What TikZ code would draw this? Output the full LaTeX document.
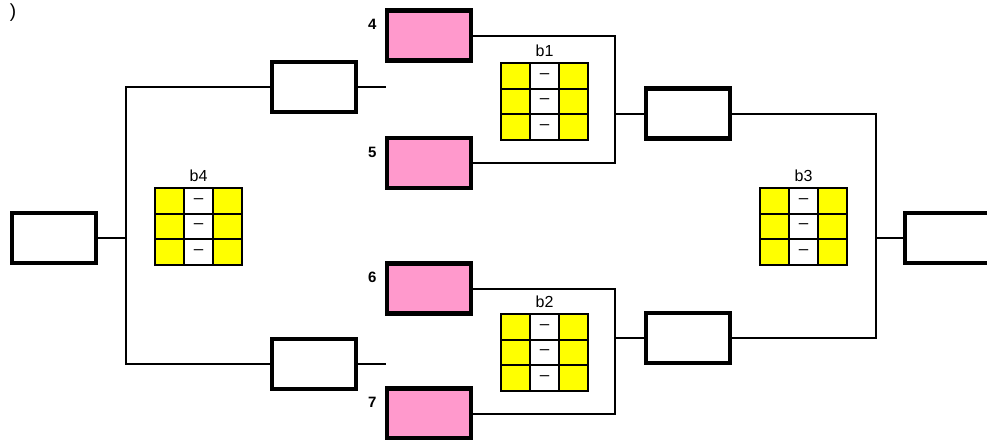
\documentclass[tikz,border=0pt]{standalone}
\usepackage{fontspec}
\setmainfont{Liberation Sans}
\usetikzlibrary{positioning}
\definecolor{seedpink}{HTML}{FF99CC}
\definecolor{cellyellow}{HTML}{FFFF00}
\tikzset{
  slot/.style={draw,line width=4.5pt,minimum width=84pt,minimum height=50pt,inner sep=0pt},
  seed/.style={slot,fill=seedpink},
  cell/.style={draw,line width=2pt,minimum width=29pt,minimum height=25.5pt,inner sep=0pt,font=\fontsize{17}{17}\selectfont},
  lbl/.style={font=\fontsize{16}{16}\selectfont,inner sep=0pt},
  num/.style={font=\bfseries\fontsize{15}{15}\selectfont,inner sep=0pt},
  wire/.style={line width=2pt},
}
\newcommand{\scoregrid}[3]{%
 \begin{scope}[shift={(#2)}]
  \foreach \c/\col/\txt in {0/cellyellow/{},1/white/{\textendash},2/cellyellow/{}}
   \foreach \r in {0,1,2}
    \node [cell,fill=\col] (#1-\r\c) at (\c*29+14.5,\r*25.5+12.75) {\txt};
  \node [lbl] (#1) at (43.5,-12) {#3};
 \end{scope}%
}
\begin{document}
\begin{tikzpicture}[x=1pt,y=-1pt]
  \useasboundingbox (0,0) rectangle (987,439);
  \node [font=\fontsize{19}{19}\selectfont,inner sep=0pt] (brace) at (13,13) {)};
  % boxes
  \node [slot] (L0) at (54,238) {};
  \node [slot] (Q1) at (314,87) {};
  \node [slot] (Q2) at (314,364) {};
  \node [seed] (P4) at (429,35.5) {};
  \node [seed] (P5) at (429,163) {};
  \node [seed] (P6) at (429,288.5) {};
  \node [seed] (P7) at (429,413.5) {};
  \node [slot] (S1) at (688,113.5) {};
  \node [slot] (S2) at (688,338) {};
  \node [slot] (F) at (947,238) {};
  % seed numbers
  \node [num,below left=11pt and 8pt of P4.north west] (n4) {4};
  \node [num,below left=11pt and 8pt of P5.north west] (n5) {5};
  \node [num,below left=11pt and 8pt of P6.north west] (n6) {6};
  \node [num,below left=11pt and 8pt of P7.north west] (n7) {7};
  % score grids
  \scoregrid{b1}{501,63}{b1}
  \scoregrid{b2}{501,314}{b2}
  \scoregrid{b3}{760,188}{b3}
  \scoregrid{b4}{155,188}{b4}
  % junctions
  \coordinate (j4) at (126,238);
  \coordinate (j1) at (615,113.5);
  \coordinate (j2) at (615,338);
  \coordinate (j3) at (876,238);
  \coordinate (s1) at (386,87);
  \coordinate (s2) at (386,364);
  \draw [wire] (Q1.west) -| (j4) |- (Q2.west);
  \draw [wire] (j4) -- (L0.east);
  \draw [wire] (Q1.east) -- (s1);
  \draw [wire] (Q2.east) -- (s2);
  \draw [wire] (P4.east) -| (j1) |- (P5.east);
  \draw [wire] (j1) -- (S1.west);
  \draw [wire] (P6.east) -| (j2) |- (P7.east);
  \draw [wire] (j2) -- (S2.west);
  \draw [wire] (S1.east) -| (j3) |- (S2.east);
  \draw [wire] (j3) -- (F.west);
\end{tikzpicture}
\end{document}
